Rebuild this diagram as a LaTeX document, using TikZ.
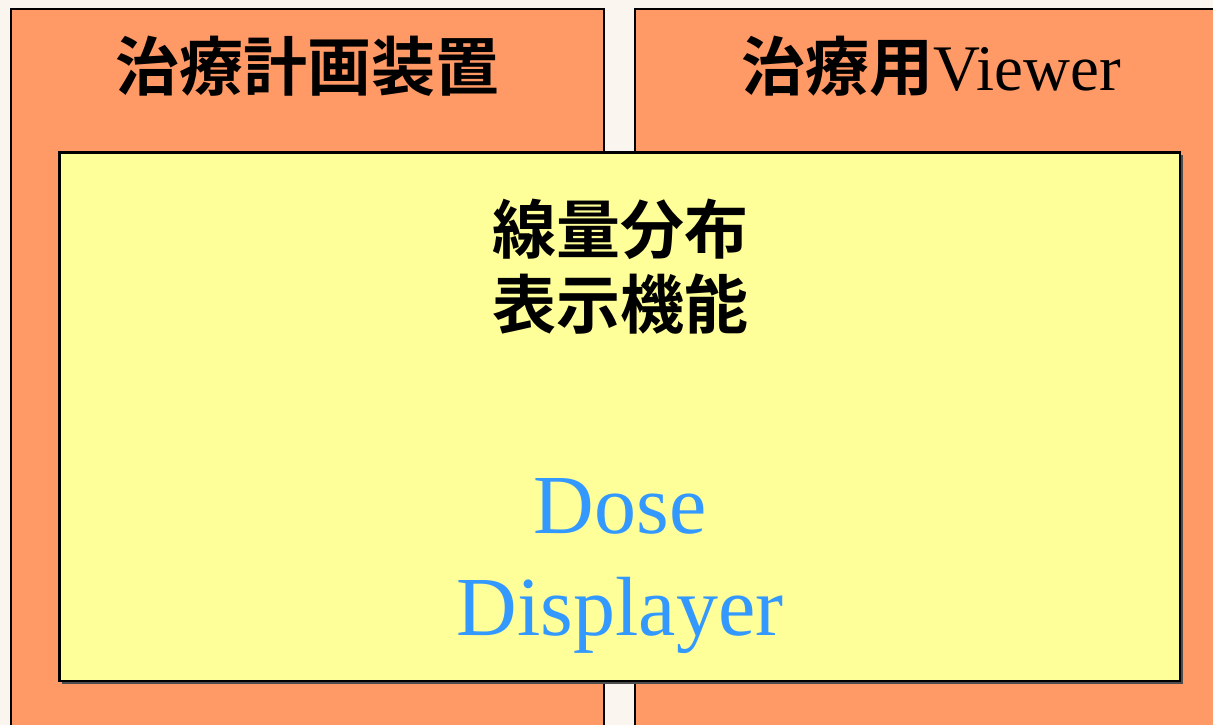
\documentclass[tikz,border=0pt]{standalone}
\usepackage{fontspec}
\setmainfont{Liberation Serif}
\newfontfamily\cjkb{Noto Sans CJK JP Bold}
\definecolor{bgc}{HTML}{FAF5EE}
\definecolor{panelc}{HTML}{FF9966}
\definecolor{innerc}{HTML}{FFFF99}
\definecolor{bluec}{HTML}{3399FF}
\tikzset{
  panel/.style={draw=black, line width=2pt, fill=panelc},
  innerbox/.style={draw=black, line width=2.6pt, fill=innerc},
  shade/.style={fill=black!70},
  cjktext/.style={inner sep=0pt, font=\cjkb\fontsize{64}{64}\selectfont, text=black},
  bluetext/.style={inner sep=0pt, anchor=base, font=\fontsize{84}{84}\selectfont, text=bluec}
}
\begin{document}
\begin{tikzpicture}[x=1pt,y=-1pt]
\path[use as bounding box, fill=bgc] (0,0) rectangle (1213,725);
\draw[panel] (10.5,9) rectangle (604,745);
\draw[panel] (635,9) rectangle (1240,745);
\fill[shade] (62,155) rectangle (1182.5,683.5);
\draw[innerbox] (59.5,152.5) rectangle (1180,681);
\node[cjktext] (t1) at (307,66) {治療計画装置};
\node[cjktext] (t2) at (931,66) {治療用{\rmfamily\mdseries\fontsize{65}{65}\selectfont Viewer}};
\node[cjktext] (t3) at (620,229) {線量分布};
\node[cjktext] (t4) at (620,304) {表示機能};
\node[bluetext] (d1) at (620,533) {Dose};
\node[bluetext] (d2) at (620,635) {Displayer};
\end{tikzpicture}
\end{document}
